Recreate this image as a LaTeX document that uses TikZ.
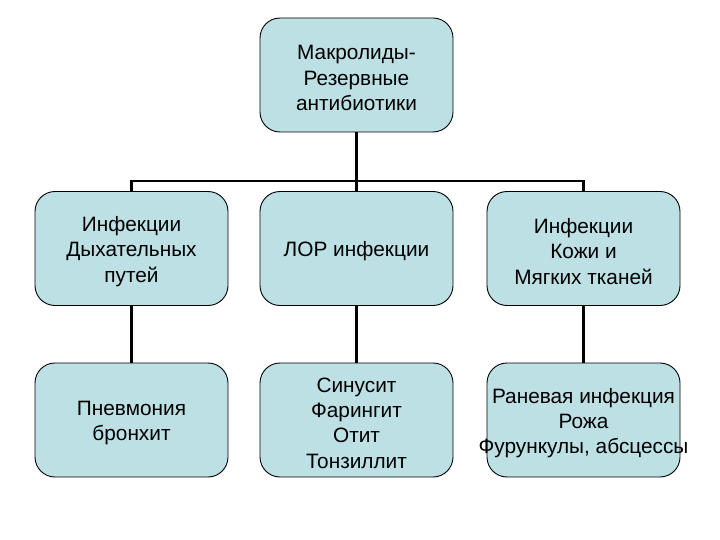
\documentclass[tikz,border=0pt]{standalone}
\usepackage{fontspec}
\setmainfont{Liberation Sans}
\definecolor{boxfill}{RGB}{189,224,228}
\begin{document}
\begin{tikzpicture}[x=1pt,y=-1pt,
  box/.style={draw=black, line width=0.9pt, fill=boxfill, rounded corners=20pt,
    minimum width=193pt, minimum height=114pt, inner sep=0pt, outer sep=0pt},
  txt/.style={align=center, font=\fontsize{20.8}{25.3}\selectfont, inner sep=0pt, yshift=-3pt},
  conn/.style={line width=2.8pt, black}]
\useasboundingbox (0,0) rectangle (720,540);
\node[box] (top) at (356.5,75) {};
\node[txt] at (top) {Макролиды-\\Резервные\\антибиотики};
\node[box] (a1) at (131.5,248.5) {};
\node[txt] at (a1) {Инфекции\\Дыхательных\\путей};
\node[box] (b1) at (356.5,248.5) {};
\node[txt] at (b1) {ЛОР инфекции};
\node[box] (c1) at (583.5,248.5) {};
\node[txt] at (c1) {Инфекции\\Кожи и\\Мягких тканей};
\node[box] (a2) at (131.5,420) {};
\node[txt] at (a2) {Пневмония\\бронхит};
\node[box] (b2) at (356.5,420) {};
\node[txt] at (b2) {Синусит\\Фарингит\\Отит\\Тонзиллит};
\node[box] (c2) at (583.5,420) {};
\node[txt] at (c2) {Раневая инфекция\\Рожа\\Фурункулы, абсцессы};
\coordinate (bar) at (356.5,181);
\draw[conn] (top.south) -- (b1.north);
\draw[conn] (a1.north) -- (a1.north |- bar) -- (c1.north |- bar) -- (c1.north);
\draw[conn] (a1.south) -- (a2.north);
\draw[conn] (b1.south) -- (b2.north);
\draw[conn] (c1.south) -- (c2.north);
\end{tikzpicture}
\end{document}
